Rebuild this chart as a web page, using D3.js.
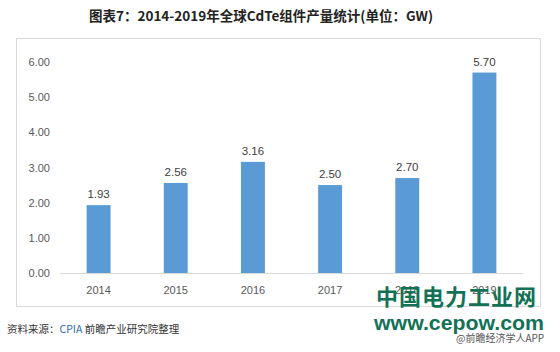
<!DOCTYPE html>
<html>
<head>
<meta charset="utf-8">
<script src="https://cdn.jsdelivr.net/npm/d3@7"></script>
<style>
  body { margin: 0; background: #fff; }
  text { font-family: "Noto Sans CJK SC", "Liberation Sans", sans-serif; }
</style>
</head>
<body>
<div id="chart"></div>
<script>
// data
var years = ["2014", "2015", "2016", "2017", "2018", "2019"];
var output = [1.93, 2.56, 3.16, 2.50, 2.70, 5.70];
var yTicks = [0, 1, 2, 3, 4, 5, 6];

var width = 560, height = 352;
var margin = { top: 62, right: 37, bottom: 79, left: 60 };

var svg = d3.select("#chart").append("svg")
    .attr("width", width)
    .attr("height", height);

// title
svg.append("text")
    .attr("x", 261).attr("y", 21)
    .attr("text-anchor", "middle")
    .attr("font-size", 13.5)
    .attr("font-weight", "bold")
    .attr("fill", "#222")
    .text("图表7：2014-2019年全球CdTe组件产量统计(单位：GW)");

// frame
svg.append("rect")
    .attr("x", 16.5).attr("y", 38.5)
    .attr("width", 524).attr("height", 268)
    .attr("fill", "none")
    .attr("stroke", "#d9d9d9");

var x = d3.scaleBand()
    .domain(years)
    .range([margin.left, width - margin.right])
    .paddingInner(0.69)
    .paddingOuter(0.345);

var y = d3.scaleLinear()
    .domain([0, 6])
    .range([273, 62]);

// y axis labels
svg.append("g").selectAll("text")
    .data(yTicks)
    .enter().append("text")
    .attr("x", 50)
    .attr("y", function(d) { return y(d) + 4; })
    .attr("text-anchor", "end")
    .attr("font-size", 11)
    .attr("fill", "#595959")
    .style("font-family", "'Liberation Sans', sans-serif")
    .text(function(d) { return d.toFixed(2); });

// baseline
svg.append("line")
    .attr("x1", margin.left).attr("x2", 523)
    .attr("y1", y(0) + 0.5).attr("y2", y(0) + 0.5)
    .attr("stroke", "#d9d9d9");

// bars
svg.append("g").selectAll("rect")
    .data(output)
    .enter().append("rect")
    .attr("x", function(d, i) { return x(years[i]); })
    .attr("y", function(d) { return y(d); })
    .attr("width", x.bandwidth())
    .attr("height", function(d) { return y(0) - y(d); })
    .attr("fill", "#5b9bd5");

// value labels
svg.append("g").selectAll("text")
    .data(output)
    .enter().append("text")
    .attr("x", function(d, i) { return x(years[i]) + x.bandwidth() / 2; })
    .attr("y", function(d) { return y(d) - 7; })
    .attr("text-anchor", "middle")
    .attr("font-size", 11.5)
    .attr("fill", "#404040")
    .style("font-family", "'Liberation Sans', sans-serif")
    .text(function(d) { return d.toFixed(2); });

// x labels
svg.append("g").selectAll("text")
    .data(years)
    .enter().append("text")
    .attr("x", function(d) { return x(d) + x.bandwidth() / 2; })
    .attr("y", 294)
    .attr("text-anchor", "middle")
    .attr("font-size", 11)
    .attr("fill", "#595959")
    .style("font-family", "'Liberation Sans', sans-serif")
    .text(function(d) { return d; });

// source
var src = svg.append("text")
    .attr("x", 7).attr("y", 333)
    .attr("font-size", 10.5)
    .attr("fill", "#333");
src.append("tspan").text("资料来源：");
src.append("tspan").attr("fill", "#2e6db4").text("CPIA");
src.append("tspan").text(" 前瞻产业研究院整理");

// watermark
svg.append("text")
    .attr("x", 376).attr("y", 305)
    .attr("font-size", 22)
    .attr("font-weight", "bold")
    .attr("fill", "#137155")
    .attr("textLength", 160)
    .attr("lengthAdjust", "spacing")
    .text("中国电力工业网");

svg.append("text")
    .attr("x", 374).attr("y", 330)
    .attr("font-size", 21)
    .attr("font-weight", "bold")
    .attr("fill", "#137155")
    .attr("textLength", 170)
    .attr("lengthAdjust", "spacingAndGlyphs")
    .style("font-family", "'Liberation Sans', sans-serif")
    .text("www.cepow.com");

svg.append("text")
    .attr("x", 456).attr("y", 342)
    .attr("font-size", 10)
    .attr("fill", "#555")
    .text("@前瞻经济学人APP");
</script>
</body>
</html>
